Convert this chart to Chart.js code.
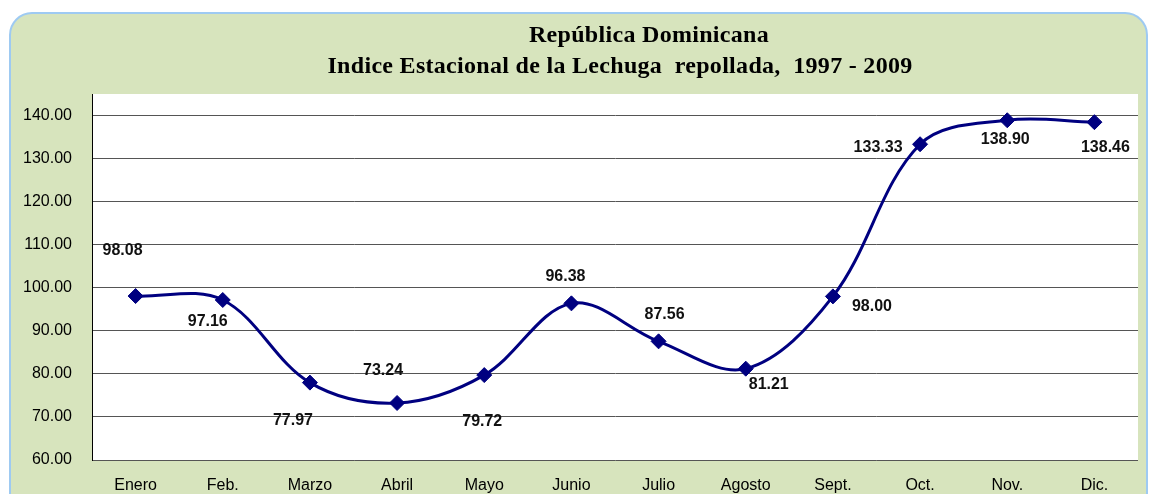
<!DOCTYPE html>
<html>
<head>
<meta charset="utf-8">
<script src="https://cdn.jsdelivr.net/npm/chart.js@4/dist/chart.umd.min.js"></script>
<style>
  html, body { margin: 0; padding: 0; background: #ffffff; }
  #wrap { position: relative; width: 1150px; height: 494px; }
</style>
</head>
<body>
<div id="wrap"><canvas id="c" width="1150" height="494"></canvas></div>
<script>
// ---- Data ----
const titleLines = ["República Dominicana", "Indice Estacional de la Lechuga  repollada,  1997 - 2009"];
const categories = ["Enero", "Feb.", "Marzo", "Abril", "Mayo", "Junio", "Julio", "Agosto", "Sept.", "Oct.", "Nov.", "Dic."];
const indexValues = [98.08, 97.16, 77.97, 73.24, 79.72, 96.38, 87.56, 81.21, 98.00, 133.33, 138.90, 138.46];
const yTicks = [60, 70, 80, 90, 100, 110, 120, 130, 140];

// label placement offsets (dx, dy) relative to each marker, as in the original
const labelOffsets = [
  [-13, -45], [-15, 22], [-17, 38], [-14, -32], [-2, 47], [-6, -27],
  [6, -27], [23, 16], [39, 10], [-42, 3], [-2, 19], [11, 25]
];

const frameAndTitle = {
  id: 'frameAndTitle',
  beforeDraw(chart) {
    const ctx = chart.ctx;
    ctx.save();
    ctx.fillStyle = '#ffffff';
    ctx.fillRect(0, 0, chart.width, chart.height);
    // rounded frame
    const x = 10, y = 13, w = 1137, h = 520, r = 22;
    ctx.beginPath();
    ctx.moveTo(x + r, y);
    ctx.lineTo(x + w - r, y);
    ctx.arcTo(x + w, y, x + w, y + r, r);
    ctx.lineTo(x + w, y + h);
    ctx.lineTo(x, y + h);
    ctx.lineTo(x, y + r);
    ctx.arcTo(x, y, x + r, y, r);
    ctx.closePath();
    ctx.fillStyle = '#d7e4bd';
    ctx.fill();
    ctx.lineWidth = 2;
    ctx.strokeStyle = '#9ecaf2';
    ctx.stroke();
    // plot area
    const a = chart.chartArea;
    ctx.fillStyle = '#ffffff';
    ctx.fillRect(a.left, a.top, a.right - a.left, a.bottom - a.top);
    // title
    ctx.fillStyle = '#000000';
    ctx.font = 'bold 24px "Liberation Serif", "Times New Roman", serif';
    try { ctx.letterSpacing = '0.3px'; } catch (e) {}
    ctx.textAlign = 'center';
    ctx.textBaseline = 'alphabetic';
    ctx.fillText(titleLines[0], 649, 42);
    ctx.fillText(titleLines[1], 620, 72.5);
    try { ctx.letterSpacing = '0px'; } catch (e) {}
    ctx.restore();
  }
};

const valueLabels = {
  id: 'valueLabels',
  afterDatasetsDraw(chart) {
    const ctx = chart.ctx;
    const meta = chart.getDatasetMeta(0);
    ctx.save();
    ctx.font = 'bold 16px "Liberation Sans", Arial, sans-serif';
    ctx.fillStyle = '#111111';
    ctx.textAlign = 'center';
    ctx.textBaseline = 'middle';
    meta.data.forEach((pt, i) => {
      const off = labelOffsets[i];
      ctx.fillText(indexValues[i].toFixed(2), pt.x + off[0], pt.y + off[1]);
    });
    ctx.restore();
  }
};

new Chart(document.getElementById('c'), {
  type: 'line',
  data: {
    labels: categories,
    datasets: [{
      data: indexValues,
      borderColor: '#000080',
      backgroundColor: '#000080',
      borderWidth: 3,
      tension: 0.35,
      pointStyle: 'rectRot',
      pointRadius: 7.5,
      pointBorderWidth: 1,
      pointBackgroundColor: '#000080',
      pointBorderColor: '#000080',
      clip: false
    }]
  },
  options: {
    responsive: false,
    animation: false,
    devicePixelRatio: 1,
    layout: { padding: { top: 94, right: 12, left: 0, bottom: 0 } },
    plugins: {
      legend: { display: false },
      title: { display: false },
      tooltip: { enabled: false }
    },
    scales: {
      x: {
        offset: true,
        grid: { display: false, drawTicks: false },
        border: { display: false },
        ticks: {
          color: '#000000',
          font: { family: '"Liberation Sans", Arial, sans-serif', size: 16 },
          padding: 16,
          maxRotation: 0,
          autoSkip: false
        },
        afterFit(scale) { scale.height = 34; }
      },
      y: {
        min: 60,
        max: 145,
        afterBuildTicks(scale) {
          scale.ticks = yTicks.map(v => ({ value: v }));
        },
        grid: { color: '#555555', lineWidth: 1, drawTicks: false },
        border: { display: true, color: '#000000', width: 1 },
        ticks: {
          color: '#000000',
          font: { family: '"Liberation Sans", Arial, sans-serif', size: 16 },
          padding: 20,
          callback: v => Number(v).toFixed(2)
        },
        afterFit(scale) { scale.width = 92; }
      }
    }
  },
  plugins: [frameAndTitle, valueLabels]
});
</script>
</body>
</html>
